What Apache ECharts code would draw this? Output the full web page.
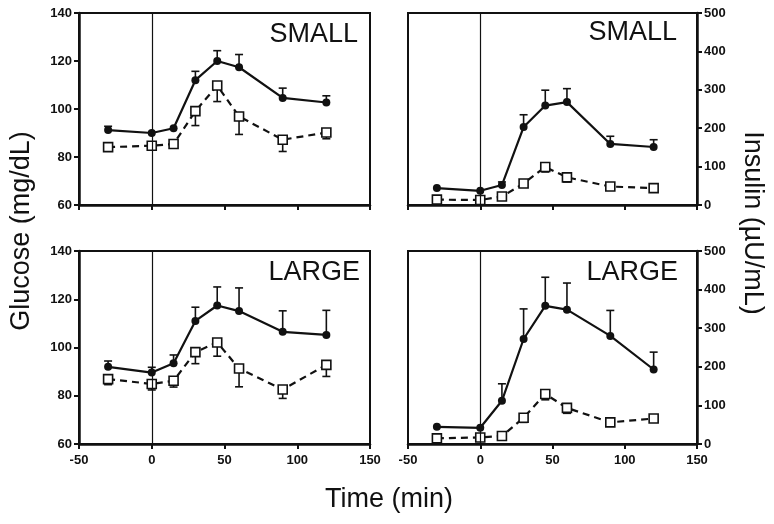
<!DOCTYPE html>
<html>
<head>
<meta charset="utf-8">
<script src="https://cdn.jsdelivr.net/npm/echarts@6/dist/echarts.min.js"></script>
<style>html,body{margin:0;padding:0;background:#fff}#c{width:774px;height:524px}</style>
</head>
<body>
<div id="c"></div>
<script>
// ---- data ----
const time = [-30, 0, 15, 30, 45, 60, 90, 120];
const xTicks = [-50, 0, 50, 100, 150];
const glucoseTicks = [60, 80, 100, 120, 140];
const insulinTicks = [0, 100, 200, 300, 400, 500];

const gluSmallSolid    = [91.2, 90.0, 92.0, 112.0, 120.0, 117.4, 104.6, 102.7];
const gluSmallSolidErr = [1.6, 0, 0, 3.7, 4.3, 5.3, 4.1, 2.8];
const gluSmallOpen     = [84.1, 84.7, 85.4, 99.1, 109.8, 96.9, 87.2, 90.2];
const gluSmallOpenErr  = [0, 0, 1, 6.0, 6.7, 7.5, 4.9, 2.6];

const insSmallSolid    = [44, 37, 52, 203, 259, 268, 159, 151];
const insSmallSolidErr = [0, 0, 8, 32, 40, 35, 20, 19];
const insSmallOpen     = [14, 13, 22, 56, 99, 72, 48, 44];
const insSmallOpenErr  = [0, 0, 0, 0, 13, 12, 0, 0];

const gluLargeSolid    = [92.0, 89.6, 93.5, 111.0, 117.4, 115.1, 106.5, 105.2];
const gluLargeSolidErr = [2.4, 2.2, 3.4, 5.7, 7.7, 9.6, 8.7, 10.2];
const gluLargeOpen     = [86.9, 84.9, 86.2, 98.1, 102.1, 91.3, 82.6, 92.8];
const gluLargeOpenErr  = [2.3, 2.5, 2.6, 4.8, 5.7, 7.6, 3.7, 4.8];

const insLargeSolid    = [44.6, 42, 112, 272, 358, 348, 280, 193];
const insLargeSolidErr = [0, 0, 44, 78, 74, 69, 66, 45];
const insLargeOpen     = [14.6, 17, 20.6, 68, 129.5, 93.5, 56, 66];
const insLargeOpenErr  = [0, 0, 0, 12, 15, 14, 0, 0];

const panelLabels = ['SMALL', 'SMALL', 'LARGE', 'LARGE'];
const yTitleLeft = 'Glucose (mg/dL)';
const yTitleRight = 'Insulin (µU/mL)';
const xTitle = 'Time (min)';

// ---- chart ----
const FONT = '"Liberation Sans", Arial, Helvetica, sans-serif';
const chart = echarts.init(document.getElementById('c'));

const grids = [
  {left: 79, top: 13, width: 291, height: 192},
  {left: 408, top: 13, width: 289, height: 192},
  {left: 79, top: 251, width: 291, height: 193},
  {left: 408, top: 251, width: 289, height: 193}
].map(g => Object.assign({show: true, borderColor: '#111', borderWidth: 2, backgroundColor: 'transparent', containLabel: false}, g));

function xAxisDef(gi, showLabels) {
  return {
    type: 'value', gridIndex: gi, min: xTicks[0], max: xTicks[xTicks.length - 1],
    interval: xTicks[1] - xTicks[0],
    axisLine: {show: true, onZero: false, lineStyle: {color: '#111', width: 2.5}},
    axisTick: {show: true, length: 5, lineStyle: {color: '#111', width: 2}},
    axisLabel: {show: showLabels, color: '#111', fontFamily: FONT, fontWeight: 'bold', fontSize: 13, margin: 10},
    splitLine: {show: false}
  };
}
function yAxisDef(gi, ticks, pos) {
  return {
    type: 'value', gridIndex: gi, position: pos, min: ticks[0], max: ticks[ticks.length - 1],
    interval: ticks[1] - ticks[0],
    axisLine: {show: true, onZero: false, lineStyle: {color: '#111', width: 2.5}},
    axisTick: {show: true, length: 5, lineStyle: {color: '#111', width: 2}},
    axisLabel: {color: '#111', fontFamily: FONT, fontWeight: 'bold', fontSize: 13, margin: 7},
    splitLine: {show: false}
  };
}

function errSeries(ai, vals, errs, dir) {
  return {
    type: 'custom', xAxisIndex: ai, yAxisIndex: ai, z: 1, silent: true,
    data: time.map((t, i) => [t, vals[i], errs[i]]),
    renderItem: function (params, api) {
      const x = api.value(0), y = api.value(1), e = api.value(2);
      if (!e) return null;
      const p0 = api.coord([x, y]);
      const p1 = api.coord([x, y + dir * e]);
      const hw = 4;
      const st = {stroke: '#111', lineWidth: 1.6};
      return {type: 'group', children: [
        {type: 'line', shape: {x1: p0[0], y1: p0[1], x2: p1[0], y2: p1[1]}, style: st},
        {type: 'line', shape: {x1: p1[0] - hw, y1: p1[1], x2: p1[0] + hw, y2: p1[1]}, style: st}
      ]};
    }
  };
}
function solidSeries(ai, vals, extra) {
  return Object.assign({
    type: 'line', xAxisIndex: ai, yAxisIndex: ai, z: 4,
    data: time.map((t, i) => [t, vals[i]]),
    symbol: 'circle', symbolSize: 8, showSymbol: true,
    itemStyle: {color: '#111'},
    lineStyle: {color: '#111', width: 2.2}
  }, extra || {});
}
function openSeries(ai, vals) {
  return {
    type: 'line', xAxisIndex: ai, yAxisIndex: ai, z: 3,
    data: time.map((t, i) => [t, vals[i]]),
    symbol: 'rect', symbolSize: 9, showSymbol: true,
    itemStyle: {color: '#fff', borderColor: '#111', borderWidth: 1.6},
    lineStyle: {color: '#111', width: 2.2, type: [7, 5]}
  };
}
function zeroLine() {
  return {
    silent: true, symbol: 'none', animation: false,
    label: {show: false},
    lineStyle: {color: '#111', width: 1.2, type: 'solid'},
    data: [{xAxis: 0}]
  };
}

const sets = [
  [gluSmallSolid, gluSmallSolidErr, gluSmallOpen, gluSmallOpenErr],
  [insSmallSolid, insSmallSolidErr, insSmallOpen, insSmallOpenErr],
  [gluLargeSolid, gluLargeSolidErr, gluLargeOpen, gluLargeOpenErr],
  [insLargeSolid, insLargeSolidErr, insLargeOpen, insLargeOpenErr]
];
const series = [];
sets.forEach((s, ai) => {
  series.push(errSeries(ai, s[0], s[1], 1));
  series.push(errSeries(ai, s[2], s[3], -1));
  series.push(openSeries(ai, s[2]));
  series.push(solidSeries(ai, s[0], {markLine: zeroLine()}));
});

const labelPos = [[358, 35], [677, 33], [360, 273], [678, 273]];
const graphics = panelLabels.map((t, i) => ({
  type: 'text', x: labelPos[i][0], y: labelPos[i][1], z: 10,
  style: {text: t, fill: '#111', font: '27px ' + FONT, align: 'right', verticalAlign: 'middle'}
}));
graphics.push({type: 'text', x: 22, y: 231, rotation: Math.PI / 2, z: 10,
  style: {text: yTitleLeft, fill: '#111', font: '27px ' + FONT, align: 'center', verticalAlign: 'middle'}});
graphics.push({type: 'text', x: 752, y: 223, rotation: -Math.PI / 2, z: 10,
  style: {text: yTitleRight, fill: '#111', font: '27px ' + FONT, align: 'center', verticalAlign: 'middle'}});
graphics.push({type: 'text', x: 389, y: 500, z: 10,
  style: {text: xTitle, fill: '#111', font: '27px ' + FONT, align: 'center', verticalAlign: 'middle'}});

chart.setOption({
  animation: false,
  backgroundColor: '#fff',
  grid: grids,
  xAxis: [xAxisDef(0, false), xAxisDef(1, false), xAxisDef(2, true), xAxisDef(3, true)],
  yAxis: [yAxisDef(0, glucoseTicks, 'left'), yAxisDef(1, insulinTicks, 'right'),
          yAxisDef(2, glucoseTicks, 'left'), yAxisDef(3, insulinTicks, 'right')],
  series: series,
  graphic: graphics
});
</script>
</body>
</html>
